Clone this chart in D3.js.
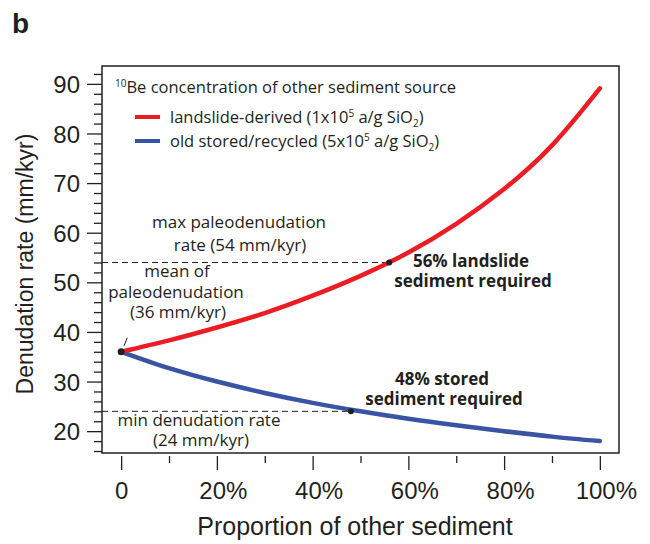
<!DOCTYPE html>
<html>
<head>
<meta charset="utf-8">
<script src="https://cdn.jsdelivr.net/npm/d3@7"></script>
<style>
  body { margin: 0; background: #fff; }
  svg text { fill: #231f20; }
  .ann { font-family: "Open Sans", sans-serif; font-size: 17px; }
  .ann-bold { font-family: "Open Sans", sans-serif; font-size: 17px; font-weight: bold; }
  .legend text { font-family: "Open Sans", sans-serif; font-size: 16.5px; }
  .axis text { font-family: "Liberation Sans", Arial, sans-serif; font-size: 24px; }
</style>
</head>
<body>
<div id="chart"></div>
<script>
// proportion of other sediment (%)
const proportion = [0, 10, 20, 30, 40, 50, 60, 70, 80, 90, 100];
// denudation rate (mm/kyr)
const landslideRate = [36, 38.3, 40.9, 43.8, 47.3, 51.3, 56.0, 61.8, 68.8, 77.6, 89.1];
const storedRate = [36, 32.7, 30.0, 27.7, 25.7, 24.0, 22.5, 21.2, 20.0, 18.9, 18.0];

const xMajorTicks = [0, 20, 40, 60, 80, 100];
const xMinorTicks = [10, 30, 50, 70, 90];
const yMajorTicks = [20, 30, 40, 50, 60, 70, 80, 90];
const yMinorTicks = d3.range(16, 93, 2).filter(v => v % 10 != 0);

// reference points
const meanRate = { p: 0, rate: 36 };
const maxPoint = { p: 56, rate: 54 };
const minPoint = { p: 48, rate: 24 };

const dims = { width: 650, height: 544,
               box: { left: 102, right: 619, top: 66, bottom: 453 } };
const red = "#ec1c24", blue = "#3a53a4", ink = "#231f20";

const svg = d3.select("#chart").append("svg")
  .attr("width", dims.width)
  .attr("height", dims.height);

let x = d3.scaleLinear().domain([-4, 104]).range([dims.box.left, dims.box.right]);
let y = d3.scaleLinear().domain([15.6, 93.6]).range([dims.box.bottom, dims.box.top]);

// panel letter
svg.append("text")
  .attr("x", 12).attr("y", 33)
  .style("font-family", "Liberation Sans, Arial, sans-serif")
  .style("font-size", "28px").style("font-weight", "bold")
  .text("b");

// y axis, major + minor ticks
let yMinor = svg.append("g").attr("class", "axis")
  .attr("transform", `translate(${dims.box.left},0)`)
  .call(d3.axisLeft(y).tickValues(yMinorTicks).tickSize(8).tickFormat(""));
let yMajor = svg.append("g").attr("class", "axis")
  .attr("transform", `translate(${dims.box.left},0)`)
  .call(d3.axisLeft(y).tickValues(yMajorTicks).tickSize(15).tickPadding(7));
yMinor.select(".domain").remove();
yMajor.select(".domain").remove();
yMajor.selectAll("text").attr("dy", "0.36em");

// x axis sits just under the box, no domain line
let xTop = dims.box.bottom + 3;
let xMinor = svg.append("g").attr("class", "axis")
  .attr("transform", `translate(0,${xTop})`)
  .call(d3.axisBottom(x).tickValues(xMinorTicks).tickSize(7).tickFormat(""));
let xMajor = svg.append("g").attr("class", "axis")
  .attr("transform", `translate(0,${xTop})`)
  .call(d3.axisBottom(x).tickValues(xMajorTicks).tickSize(14)
    .tickFormat(d => d == 0 ? "0" : d + "%"));
xMinor.select(".domain").remove();
xMajor.select(".domain").remove();
xMajor.selectAll("text")
  .attr("y", 43).attr("dy", 0)
  .attr("dx", d => d == 0 ? 0 : 6);

svg.selectAll(".axis line").attr("stroke", ink).attr("stroke-width", 1.3);

// axis titles
svg.append("text")
  .attr("transform", "translate(33,264) rotate(-90)")
  .attr("text-anchor", "middle")
  .style("font-family", "Liberation Sans, Arial, sans-serif")
  .style("font-size", "23px")
  .text("Denudation rate (mm/kyr)");

svg.append("text")
  .attr("x", 355).attr("y", 535)
  .attr("text-anchor", "middle")
  .style("font-family", "Liberation Sans, Arial, sans-serif")
  .style("font-size", "25px")
  .text("Proportion of other sediment");

// dashed guides from the axis to the solution points
[maxPoint, minPoint].forEach(pt => {
  svg.append("line")
    .attr("x1", dims.box.left).attr("x2", x(pt.p))
    .attr("y1", y(pt.rate)).attr("y2", y(pt.rate))
    .attr("stroke", ink).attr("stroke-width", 1)
    .attr("stroke-dasharray", "6,4");
});

let line = d3.line()
  .x((d, i) => x(proportion[i]))
  .y(d => y(d))
  .curve(d3.curveNatural);

svg.append("path")
  .datum(storedRate)
  .attr("fill", "none").attr("stroke", blue).attr("stroke-width", 4.5)
  .attr("stroke-linecap", "round")
  .attr("d", line);

svg.append("path")
  .datum(landslideRate)
  .attr("fill", "none").attr("stroke", red).attr("stroke-width", 4.5)
  .attr("stroke-linecap", "round")
  .attr("d", line);

// points
svg.append("circle").attr("cx", x(meanRate.p)).attr("cy", y(meanRate.rate)).attr("r", 3.5).attr("fill", ink);
svg.append("circle").attr("cx", x(maxPoint.p)).attr("cy", y(maxPoint.rate)).attr("r", 3).attr("fill", ink);
svg.append("circle").attr("cx", x(minPoint.p)).attr("cy", y(minPoint.rate)).attr("r", 3).attr("fill", ink);

// little leader from the mean label to the start point
svg.append("line")
  .attr("x1", x(meanRate.p) + 3).attr("y1", y(meanRate.rate) - 6)
  .attr("x2", x(meanRate.p) + 6).attr("y2", y(meanRate.rate) - 14)
  .attr("stroke", ink).attr("stroke-width", 1);

// annotations
let annotations = [
  { text: "max paleodenudation", x: 239, y: 228, cls: "ann" },
  { text: "rate (54 mm/kyr)", x: 240, y: 251, cls: "ann" },
  { text: "mean of", x: 177, y: 277, cls: "ann" },
  { text: "paleodenudation", x: 176, y: 298, cls: "ann" },
  { text: "(36 mm/kyr)", x: 178, y: 318, cls: "ann" },
  { text: "56% landslide", x: 471, y: 267, cls: "ann-bold" },
  { text: "sediment required", x: 473, y: 287, cls: "ann-bold" },
  { text: "48% stored", x: 442, y: 385, cls: "ann-bold" },
  { text: "sediment required", x: 444, y: 405, cls: "ann-bold" },
  { text: "min denudation rate", x: 199, y: 426, cls: "ann" },
  { text: "(24 mm/kyr)", x: 201, y: 446, cls: "ann" },
];
svg.selectAll(".annot")
  .data(annotations)
  .enter()
  .append("text")
  .attr("class", d => d.cls)
  .attr("x", d => d.x).attr("y", d => d.y)
  .attr("text-anchor", "middle")
  .text(d => d.text);

// legend
let legend = svg.append("g").attr("class", "legend");
let title = legend.append("text").attr("x", 115).attr("y", 93);
title.append("tspan").attr("dy", -6).style("font-size", "10px").text("10");
title.append("tspan").attr("dy", 6).text("Be concentration of other sediment source");

let legendItems = [
  { color: red, y: 117, label: "landslide-derived (1x10", exp: "5" },
  { color: blue, y: 141, label: "old stored/recycled (5x10", exp: "5" },
];
legendItems.forEach(item => {
  legend.append("line")
    .attr("x1", 135).attr("x2", 160)
    .attr("y1", item.y).attr("y2", item.y)
    .attr("stroke", item.color).attr("stroke-width", 4);
  let t = legend.append("text").attr("x", 170).attr("y", item.y + 6);
  t.append("tspan").text(item.label);
  t.append("tspan").attr("dy", -6).style("font-size", "10px").text(item.exp);
  t.append("tspan").attr("dy", 6).text(" a/g SiO");
  t.append("tspan").attr("dy", 4).style("font-size", "10px").text("2");
  t.append("tspan").attr("dy", -4).text(")");
});

// frame
svg.append("rect")
  .attr("x", dims.box.left).attr("y", dims.box.top)
  .attr("width", dims.box.right - dims.box.left)
  .attr("height", dims.box.bottom - dims.box.top)
  .attr("fill", "none").attr("stroke", ink).attr("stroke-width", 1.5);
</script>
</body>
</html>
